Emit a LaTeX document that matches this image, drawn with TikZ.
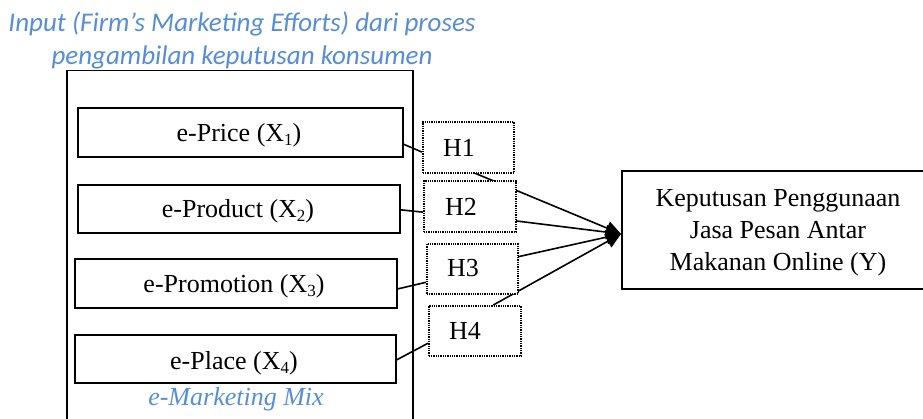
\documentclass[tikz,border=0pt]{standalone}
\usepackage{fontspec}
\setmainfont{Liberation Serif}
\newfontfamily\calibfont{Carlito}
\usetikzlibrary{arrows.meta,calc}
\definecolor{titleblue}{RGB}{85,142,213}
\newcommand\xsub[1]{\raisebox{-0.12em}{\fontsize{17}{17}\selectfont #1}}
\begin{document}
\begin{tikzpicture}[x=1pt,y=-1pt,
  outerbox/.style={draw, line width=1.5pt, anchor=north west, inner sep=0pt},
  mixbox/.style={draw, line width=1.7pt, anchor=north west, inner sep=0pt},
  hbox/.style={draw, dash pattern=on 1.3pt off 1pt, line width=1.7pt, fill=white, anchor=north west, inner sep=0pt},
  txt/.style={anchor=base, inner sep=0pt, font=\fontsize{26}{30}\selectfont},
  htxt/.style={anchor=base west, inner sep=0pt, font=\fontsize{26}{30}\selectfont},
  bluetxt/.style={anchor=base, inner sep=0pt, text=titleblue},
  link/.style={line width=1.6pt},
  toY/.style={line width=1.6pt, -{Triangle[length=15pt,width=14pt]}}
]
\useasboundingbox (0,0) rectangle (923,419);
\clip (0,0) rectangle (923,419);

% title
\node[bluetxt, font=\calibfont\itshape\fontsize{27}{31}\selectfont] (t1) at (242,32) {Input (Firm’s Marketing Efforts) dari proses};
\node[bluetxt, font=\calibfont\itshape\fontsize{27}{31}\selectfont] (t2) at (242,65) {pengambilan keputusan konsumen};

% outer box
\node[outerbox, minimum width=346pt, minimum height=380pt] (outer) at (66,70) {};

% mix boxes
\node[mixbox, minimum width=325pt, minimum height=49pt] (price) at (77,107) {};
\node[mixbox, minimum width=322pt, minimum height=48pt] (product) at (77,184) {};
\node[mixbox, minimum width=322pt, minimum height=49pt] (promo) at (74,258) {};
\node[mixbox, minimum width=321pt, minimum height=48pt] (place) at (74,334) {};
\node[txt] (pricet) at (239,142) {e-Price (X\xsub{1})};
\node[txt] (productt) at (238,218) {e-Product (X\xsub{2})};
\node[txt] (promot) at (234,293) {e-Promotion (X\xsub{3})};
\node[txt] (placet) at (234,370) {e-Place (X\xsub{4})};
\node[bluetxt, font=\itshape\fontsize{26}{30}\selectfont] (emix) at (236,405) {e-Marketing Mix};

% Y box
\node[mixbox, minimum width=330pt, minimum height=118pt] (Y) at (621,170) {};
\node[txt] (y1) at (778,207) {Keputusan Penggunaan};
\node[txt] (y2) at (778,239) {Jasa Pesan Antar};
\node[txt] (y3) at (778,271) {Makanan Online (Y)};
\coordinate (tip) at ($(Y.north west)!0.534!(Y.south west)$);

% H box corners (for connectors drawn behind the boxes)
\path (422,121) coordinate (H1nw) (513,172) coordinate (H1se)
      (423,180) coordinate (H2nw) (515,231) coordinate (H2se)
      (426,243) coordinate (H3nw) (517,293) coordinate (H3se)
      (428,305) coordinate (H4nw) (520,355) coordinate (H4se);

% connectors to Y (behind the H boxes)
\draw[toY] ($(H1nw|-H1se)!0.55!(H1se)$) -- (tip);
\draw[toY] ($(H2se|-H2nw)!0.8!(H2se)$) -- (tip);
\draw[toY] ($(H3se|-H3nw)!0.28!(H3se)$) -- (tip);
\draw[toY] ($(H4nw)!0.71!(H4se|-H4nw)$) -- (tip);

% H boxes
\node[hbox, minimum width=91pt, minimum height=51pt] (H1) at (H1nw) {};
\node[hbox, minimum width=92pt, minimum height=51pt] (H2) at (H2nw) {};
\node[hbox, minimum width=91pt, minimum height=50pt] (H3) at (H3nw) {};
\node[hbox, minimum width=92pt, minimum height=50pt] (H4) at (H4nw) {};
\node[htxt] (h1t) at (443,157) {H1};
\node[htxt] (h2t) at (445,216) {H2};
\node[htxt] (h3t) at (447,277) {H3};
\node[htxt] (h4t) at (449,340) {H4};

% connectors mix -> H
\draw[link] ($(price.north east)!0.735!(price.south east)$) -- ($(H1.north west)!0.59!(H1.south west)$);
\draw[link] ($(product.north east)!0.52!(product.south east)$) -- ($(H2.north west)!0.61!(H2.south west)$);
\draw[link] ($(promo.north east)!0.61!(promo.south east)$) -- ($(H3.north west)!0.76!(H3.south west)$);
\draw[link] ($(place.north east)!0.52!(place.south east)$) -- ($(H4.north west)!0.74!(H4.south west)$);
\end{tikzpicture}
\end{document}
